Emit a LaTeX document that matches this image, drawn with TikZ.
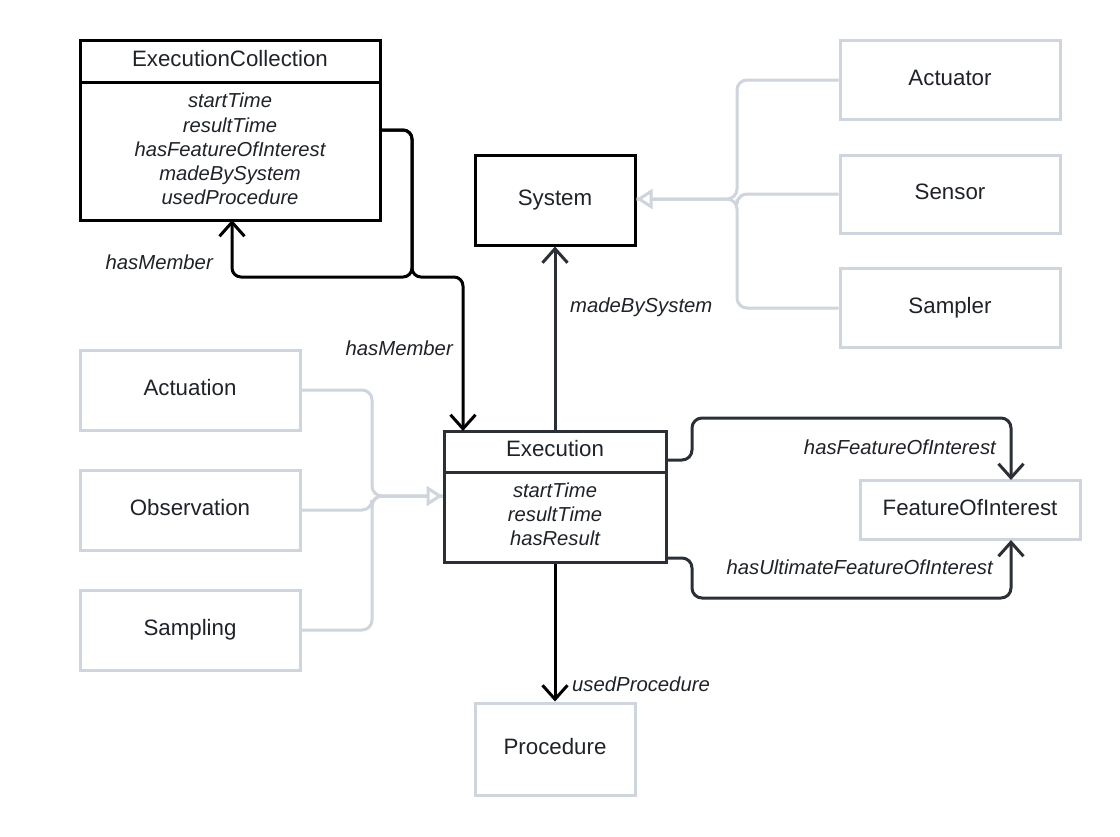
\documentclass[tikz,border=0pt]{standalone}
\usepackage{fontspec}
\setmainfont{Liberation Sans}
\usetikzlibrary{arrows.meta,calc}
\definecolor{boxgray}{HTML}{CFD5DD}
\definecolor{txt}{HTML}{1F2329}
\definecolor{dark}{HTML}{2B2F36}
\tikzset{
  graybox/.style={draw=boxgray, line width=3pt, fill=white, text=txt, font=\fontsize{22.3}{26}\selectfont, text height=16pt, text depth=6pt},
  umlbox/.style={draw=#1, line width=3pt, fill=white},
  umlbox/.default=black,
  title/.style={text=txt, font=\fontsize{22.3}{26}\selectfont},
  attrs/.style={text=txt, align=center, font=\fontsize{20.2}{24.2}\selectfont\itshape},
  lbl/.style={text=txt, font=\fontsize{20.3}{24}\selectfont\itshape, inner sep=0pt},
  assoc/.style={line width=3pt, draw=black, rounded corners=9pt},
  assocd/.style={line width=3pt, draw=dark, rounded corners=10pt},
  barb/.style={-{Straight Barb[length=14pt,width=25pt]}},
  gen/.style={line width=3pt, draw=boxgray, rounded corners=10pt},
  gtip/.style={-{Triangle[open,length=16pt,width=20pt,fill=white]}}
}
\begin{document}
\begin{tikzpicture}[x=1pt,y=-1pt]
\useasboundingbox (0,0) rectangle (1120,836);
\fill[white] (0,0) rectangle (1120,836);

% ExecutionCollection
\node[umlbox, minimum width=300pt, minimum height=180pt] (ec) at (230,130) {};
\node[title] (ectitle) at (230,59) {ExecutionCollection};
\draw[line width=3pt] (ec.west |- 0,82) -- (ec.east |- 0,82);
\node[attrs] (ecattrs) at (230,149) {startTime\\resultTime\\hasFeatureOfInterest\\madeBySystem\\usedProcedure};

% System
\node[umlbox, minimum width=160pt, minimum height=90pt, text=txt, font=\fontsize{22.3}{26}\selectfont, text height=16pt, text depth=6pt] (sys) at (555,200) {System};

% Actuator etc
\node[graybox, minimum width=220pt, minimum height=79pt] (act) at (950,80) {Actuator};
\node[graybox, minimum width=220pt, minimum height=78pt] (sen) at (950,194) {Sensor};
\node[graybox, minimum width=220pt, minimum height=79pt] (smp) at (950,308) {Sampler};

% Execution
\node[umlbox=dark, minimum width=222pt, minimum height=131pt] (exe) at (555,496.5) {};
\node[title] (exetitle) at (555,449) {Execution};
\draw[line width=3pt, dark] (exe.west |- 0,472) -- (exe.east |- 0,472);
\node[attrs] (exeattrs) at (555,514) {startTime\\resultTime\\hasResult};

% Left gray boxes
\node[graybox, minimum width=220pt, minimum height=80pt] (acn) at (190,390) {Actuation};
\node[graybox, minimum width=220pt, minimum height=80pt] (obs) at (190,510) {Observation};
\node[graybox, minimum width=220pt, minimum height=80pt] (sam) at (190,630) {Sampling};

% FOI and Procedure
\node[graybox, minimum width=220pt, minimum height=59pt] (foi) at (970,510) {FeatureOfInterest};
\node[graybox, minimum width=160pt, minimum height=92pt] (proc) at (555,749) {Procedure};

% Generalisation right
\coordinate (gr) at (737,199);
\draw[gen] (sen.west) -- (sen.west -| gr) -- (gr);
\draw[gen] (act.west) -- (act.west -| gr) -- (gr) -- (sys.east |- gr);
\draw[gen] (smp.west) -- (smp.west -| gr) -- (gr) -- (sys.east |- gr);
\draw[line width=3pt, boxgray, gtip] ($(sys.east |- gr)+(20,0)$) -- (sys.east |- gr);

% Generalisation left
\coordinate (gl) at (372,496);
\draw[gen] (acn.east) -- (acn.east -| gl) -- (gl) -- (exe.west |- gl);
\draw[gen] (obs.east) -- (obs.east -| gl) -- (gl) -- (exe.west |- gl);
\draw[gen] (sam.east) -- (sam.east -| gl) -- (gl) -- (exe.west |- gl);
\draw[line width=3pt, boxgray, gtip] ($(exe.west |- gl)+(-22,0)$) -- (exe.west |- gl);

% hasMember
\coordinate (t1) at (412,130);
\coordinate (j) at (412,277);
\coordinate (ecin) at (232,220);
\coordinate (exin) at (463,431);
\draw[assoc, barb] (ec.east) -- (t1) -- (j) -- (j -| ecin) -- (ecin);
\draw[assoc, barb] (ec.east) -- (t1) -- (j) -- (j -| exin) -- (exin);
\node[lbl, anchor=east] (hm1) at (213,262) {hasMember};
\node[lbl, anchor=east] (hm2) at (453,348) {hasMember};

% madeBySystem
\draw[assocd, barb] (exe.north) -- (sys.south);
\node[lbl, anchor=west] (mbs) at (570,307) {madeBySystem};

% usedProcedure
\draw[assoc, barb] (exe.south) -- (proc.north);
\node[lbl, anchor=west] (up) at (572,684) {usedProcedure};

% hasFeatureOfInterest
\coordinate (f1) at (666,460);
\coordinate (f2) at (692,418);
\coordinate (fin) at (1011,480);
\draw[assocd, barb] (f1) -- (f1 -| f2) -- (f2) -- (f2 -| fin) -- (fin);
\node[lbl, anchor=east] (hfoi) at (996,447) {hasFeatureOfInterest};

\coordinate (u1) at (666,558);
\coordinate (u2) at (692,598);
\coordinate (uin) at (1011,540);
\draw[assocd, barb] (u1) -- (u1 -| u2) -- (u2) -- (u2 -| uin) -- (uin);
\node[lbl, anchor=east] (hufoi) at (993,567) {hasUltimateFeatureOfInterest};
\end{tikzpicture}
\end{document}
